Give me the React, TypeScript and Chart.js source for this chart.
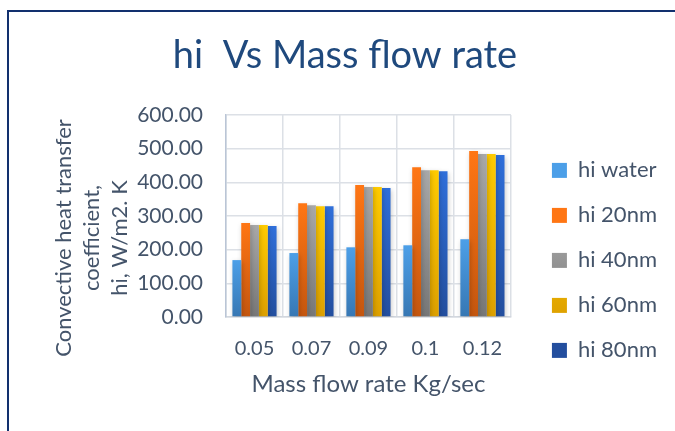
import React, { useEffect, useRef } from 'react';
import { Chart, registerables } from 'chart.js';

Chart.register(...registerables);

const categories = ['0.05', '0.07', '0.09', '0.1', '0.12'];
const seriesLabels = ['hi water', 'hi 20nm', 'hi 40nm', 'hi 60nm', 'hi 80nm'];
const hiWater = [169, 190, 207, 213, 231];
const hi20nm = [279, 338, 392, 445, 493];
const hi40nm = [273, 332, 386, 436, 484];
const hi60nm = [273, 329, 386, 436, 484];
const hi80nm = [270, 329, 383, 433, 481];
const yMin = 0;
const yMax = 600;
const yStep = 100;
const titleText = 'hi  Vs Mass flow rate';
const xTitleText = 'Mass flow rate Kg/sec';
const yTitleLines = ['Convective heat transfer', 'coefficient,', 'hi, W/m2. K'];

const seriesValues = [hiWater, hi20nm, hi40nm, hi60nm, hi80nm];
const gradTop = ['#4C9FE8', '#FF7614', '#A8A8A8', '#FFCB00', '#2F6FDA'];
const gradBottom = ['#3777B3', '#C4560F', '#777777', '#DDA000', '#234E9E'];

const TEXT = '#44546A';
const FONT = 'Lato';

function barFill(i: number) {
  return (c: any) => {
    const chart = c.chart;
    const area = chart.chartArea;
    if (!area || c.type !== 'data' || !c.parsed) return gradTop[i];
    const yTop = chart.scales.y.getPixelForValue(c.parsed.y);
    const g = chart.ctx.createLinearGradient(0, yTop, 0, area.bottom);
    g.addColorStop(0, gradTop[i]);
    g.addColorStop(1, gradBottom[i]);
    return g;
  };
}

const shadowPlugin = {
  id: 'barShadow',
  beforeDatasetsDraw(chart: any) {
    const ctx = chart.ctx;
    ctx.save();
    ctx.shadowColor = 'rgba(0,0,0,0.22)';
    ctx.shadowBlur = 5;
    ctx.shadowOffsetX = 1;
    ctx.shadowOffsetY = 2;
  },
  afterDatasetsDraw(chart: any) {
    chart.ctx.restore();
  },
};

const yTitlePlugin = {
  id: 'yTitleLines',
  afterDraw(chart: any) {
    const ctx = chart.ctx;
    const area = chart.chartArea;
    ctx.save();
    ctx.font = `22px ${FONT}`;
    ctx.fillStyle = TEXT;
    ctx.textAlign = 'center';
    ctx.textBaseline = 'middle';
    const cy = area.bottom - 79;
    yTitleLines.forEach((t, i) => {
      ctx.save();
      ctx.translate(area.left - 162 + i * 28, cy);
      ctx.rotate(-Math.PI / 2);
      ctx.fillText(t, 0, 0);
      ctx.restore();
    });
    ctx.restore();
  },
};

export default function App() {
  const ref = useRef<HTMLCanvasElement>(null);

  useEffect(() => {
    document.body.style.margin = '0';
    const chart = new Chart(ref.current as HTMLCanvasElement, {
      type: 'bar',
      data: {
        labels: categories,
        datasets: seriesValues.map((vals, i) => ({
          label: seriesLabels[i],
          data: vals,
          yAxisID: 'y',
          backgroundColor: barFill(i),
          borderWidth: 0,
          categoryPercentage: 0.775,
          barPercentage: 1.0,
        })),
      },
      options: {
        responsive: false,
        animation: false,
        layout: { padding: { left: 23, right: 8, top: 0, bottom: 0 } },
        plugins: {
          title: {
            display: true,
            text: titleText,
            color: '#1F497D',
            font: { family: FONT, size: 38, weight: 'normal' },
            padding: { top: 33, bottom: 36.4 },
          },
          legend: {
            display: true,
            position: 'right',
            align: 'start',
            maxWidth: 220,
            title: { display: true, text: '', font: { size: 12 }, padding: { top: 61, bottom: 61 } },
            labels: {
              color: TEXT,
              font: { family: FONT, size: 22 },
              boxWidth: 15,
              boxHeight: 15,
              padding: 23,
            },
          },
          tooltip: { enabled: false },
        },
        scales: {
          x: {
            grid: { display: true, color: '#DCE0E6', lineWidth: 1.5, drawTicks: false, offset: true },
            border: { display: true, color: '#D3D8DF', width: 1.5 },
            ticks: { color: TEXT, font: { family: FONT, size: 20 }, padding: 20 },
            title: {
              display: true,
              text: xTitleText,
              color: TEXT,
              font: { family: FONT, size: 24 },
              padding: { top: 0, bottom: 32 },
            },
            afterFit: (s: any) => { s.height = 114; },
          },
          y: {
            min: yMin,
            max: yMax,
            grid: { color: '#DCE0E6', lineWidth: 1.5, drawTicks: false },
            border: { display: true, color: '#BAC5D6', width: 1.5 },
            ticks: {
              stepSize: yStep,
              color: TEXT,
              font: { family: FONT, size: 21 },
              padding: 23,
              callback: (v: any) => Number(v).toFixed(2),
            },
            afterFit: (s: any) => { s.width = 203; },
          },
          spacer: {
            type: 'linear',
            position: 'right',
            display: true,
            grid: { display: false },
            border: { display: false },
            ticks: { display: false },
            afterFit: (s: any) => { s.width = 18; },
          },
        },
      } as any,
      plugins: [shadowPlugin, yTitlePlugin],
    });
    return () => chart.destroy();
  }, []);

  return (
    <div style={{ position: 'relative', width: 675, height: 431, overflow: 'hidden', background: '#fff' }}>
      <canvas ref={ref} width={675} height={431} style={{ display: 'block' }} />
      <div
        style={{
          position: 'absolute',
          left: 7,
          top: 10,
          width: 720,
          height: 520,
          borderLeft: '2px solid #12306E',
          borderTop: '2px solid #12306E',
          pointerEvents: 'none',
        }}
      />
    </div>
  );
}
